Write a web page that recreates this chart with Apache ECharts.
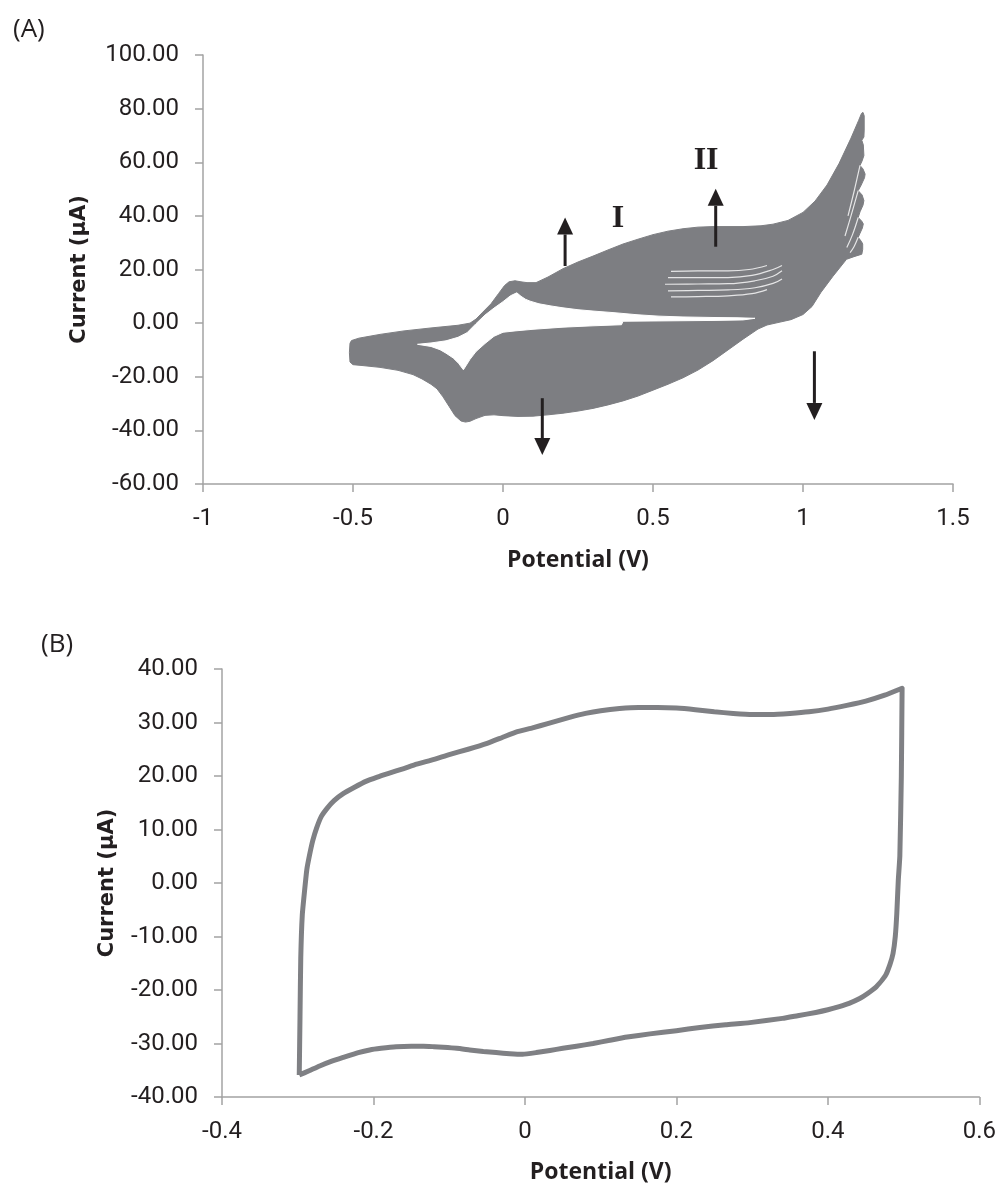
<!DOCTYPE html>
<html>
<head>
<meta charset="utf-8">
<script src="https://cdn.jsdelivr.net/npm/echarts@6/dist/echarts.min.js"></script>
<style>
  html, body { margin: 0; padding: 0; background: #fff; }
  #chart { width: 999px; height: 1185px; }
</style>
</head>
<body>
<div id="chart"></div>
<script>
const outlineA = [
  [-0.505, -6.5], [-0.48, -5.6], [-0.45, -5.0], [-0.41, -4.2], [-0.33, -2.9], [-0.24, -1.8],
  [-0.15, -0.8], [-0.11, 0.0], [-0.09, 1.5], [-0.07, 3.8], [-0.04, 7.2], [-0.015, 11.0],
  [0.005, 14.0], [0.02, 15.4], [0.04, 15.8], [0.06, 15.4], [0.08, 15.1], [0.11, 15.1],
  [0.15, 17.2], [0.2, 20.3], [0.25, 22.8], [0.3, 25.0], [0.35, 27.3], [0.4, 29.5],
  [0.45, 31.3], [0.5, 33.0], [0.55, 34.3], [0.6, 35.2], [0.65, 35.8], [0.7, 36.0],
  [0.8, 36.0], [0.86, 36.3], [0.9, 36.9], [0.95, 38.3], [1.0, 41.3], [1.04, 45.5],
  [1.08, 51.5], [1.12, 59.5], [1.16, 69.0], [1.185, 75.5], [1.195, 78.2], [1.2, 78.6],
  [1.204, 77.3], [1.204, 72.0], [1.203, 69.4], [1.196, 68.2], [1.201, 66.5], [1.203, 62.5],
  [1.197, 60.5], [1.19, 58.8], [1.2, 57.5], [1.207, 55.6], [1.205, 54.2], [1.194, 51.5],
  [1.184, 49.4], [1.197, 47.8], [1.203, 45.7], [1.2, 44.0], [1.19, 41.5], [1.184, 39.4],
  [1.196, 38.0], [1.201, 37.0], [1.198, 35.5], [1.19, 33.5], [1.184, 32.0], [1.195, 30.4],
  [1.199, 29.5], [1.199, 27.5], [1.196, 25.7],
  [1.17, 24.8], [1.145, 23.8], [1.1, 17.5], [1.06, 11.5], [1.03, 6.2], [1.0, 3.2],
  [0.96, 1.3], [0.92, 0.3], [0.88, -0.7], [0.85, -2.2], [0.8, -6.0], [0.75, -10.0],
  [0.7, -14.0], [0.65, -17.5], [0.6, -20.4], [0.55, -22.8], [0.5, -25.0], [0.45, -27.2],
  [0.4, -29.0], [0.35, -30.5], [0.3, -31.8], [0.25, -32.8], [0.2, -33.6], [0.15, -34.2],
  [0.1, -34.7], [0.05, -34.8], [0.0, -34.5], [-0.03, -34.2], [-0.06, -34.4], [-0.09, -35.6],
  [-0.11, -36.6], [-0.125, -36.9], [-0.14, -36.5], [-0.16, -34.5], [-0.18, -31.0],
  [-0.2, -27.5], [-0.22, -24.5], [-0.24, -22.8], [-0.27, -20.8], [-0.3, -19.2],
  [-0.35, -17.6], [-0.41, -16.5], [-0.47, -15.8], [-0.5, -15.5], [-0.51, -14.5],
  [-0.512, -11.0], [-0.51, -7.5]
];

// white hole between first forward and first reverse sweep
const holeA = [
  [-0.285, -7.9], [-0.24, -7.4], [-0.19, -6.6], [-0.15, -5.3], [-0.12, -3.6], [-0.09, -0.2],
  [-0.06, 3.0], [-0.03, 5.6], [0.0, 8.0], [0.025, 10.2], [0.046, 11.3], [0.06, 10.0],
  [0.075, 8.9], [0.09, 8.2], [0.12, 7.2], [0.16, 6.4], [0.2, 5.7], [0.25, 5.0], [0.3, 4.5],
  [0.37, 3.9], [0.45, 3.1], [0.52, 2.6], [0.6, 2.3], [0.7, 2.1], [0.78, 2.0], [0.84, 1.8],
  [0.8, 1.2], [0.7, 1.0], [0.6, 0.9], [0.5, 0.8], [0.4, 0.7], [0.395, -0.6], [0.3, -1.0],
  [0.2, -1.5], [0.1, -2.3], [0.04, -2.9], [0.0, -3.4], [-0.03, -4.9], [-0.06, -7.6],
  [-0.09, -10.6], [-0.11, -13.5], [-0.132, -17.4], [-0.148, -15.0], [-0.166, -13.0],
  [-0.19, -11.2], [-0.21, -9.9], [-0.24, -8.7]
];

// thin white gaps between neighbouring sweeps
const gapLinesA = [
  [[0.56, 19.3], [0.65, 19.5], [0.75, 19.5], [0.82, 20.0], [0.88, 21.5]],
  [[0.55, 17.0], [0.65, 17.0], [0.75, 17.0], [0.83, 17.8], [0.9, 20.0], [0.93, 21.5]],
  [[0.54, 14.5], [0.65, 14.6], [0.75, 14.7], [0.84, 15.8], [0.9, 17.5], [0.93, 19.5]],
  [[0.55, 12.0], [0.65, 12.2], [0.75, 12.4], [0.84, 13.2], [0.9, 14.8], [0.93, 16.5]],
  [[0.56, 9.8], [0.65, 9.9], [0.75, 10.2], [0.83, 11.0], [0.88, 12.5]],
  [[1.19, 58.8], [1.17, 49.0], [1.15, 40.0]],
  [[1.184, 49.4], [1.16, 40.0], [1.14, 32.5]],
  [[1.184, 39.4], [1.165, 33.0], [1.146, 28.2]],
  [[1.184, 32.0], [1.17, 28.5], [1.157, 26.3]],
  [[1.123, 15.7], [1.1, 13.0], [1.079, 10.7]],
  [[1.06, 7.0], [1.04, 5.6], [1.02, 4.6]]
];

// arrows: [potential, tail current, head current]
const arrowsA = [
  [0.207, 21.3, 39.4],
  [0.709, 28.5, 50.1],
  [0.131, -28.0, -49.2],
  [1.038, -10.5, -36.1]
];
const romanText = ['I', 'II'];
const romanPos = [[0.383, 39.0], [0.677, 60.7]];

// ---- panel (B): single cycle ----
const cycleB = [
  [-0.298, -35.9], [-0.297, -25.0], [-0.296, -14.0], [-0.294, -6.0], [-0.291, -1.5],
  [-0.288, 2.5], [-0.284, 5.5], [-0.28, 8.0], [-0.275, 10.3], [-0.269, 12.4],
  [-0.261, 14.0], [-0.252, 15.4], [-0.24, 16.7], [-0.225, 17.9], [-0.21, 19.0],
  [-0.195, 19.8], [-0.18, 20.5], [-0.16, 21.4], [-0.143, 22.2], [-0.12, 23.1],
  [-0.1, 24.0], [-0.075, 25.0], [-0.05, 26.1], [-0.03, 27.2], [-0.01, 28.3], [0.01, 29.0],
  [0.03, 29.8], [0.06, 31.0], [0.08, 31.7], [0.1, 32.2], [0.125, 32.6], [0.15, 32.8],
  [0.175, 32.8], [0.2, 32.7], [0.225, 32.4], [0.25, 32.0], [0.275, 31.7], [0.3, 31.5],
  [0.325, 31.5], [0.35, 31.7], [0.375, 32.0], [0.4, 32.5], [0.425, 33.2], [0.45, 34.0],
  [0.475, 35.1], [0.498, 36.4],
  [0.497, 20.0], [0.495, 5.0], [0.493, 0.6], [0.491, -5.7], [0.489, -10.0], [0.486, -13.2],
  [0.482, -15.2], [0.476, -17.3], [0.464, -19.4], [0.452, -20.7], [0.442, -21.6],
  [0.428, -22.5], [0.415, -23.1], [0.4, -23.7], [0.384, -24.2], [0.36, -24.8], [0.34, -25.3],
  [0.297, -26.1], [0.265, -26.5], [0.231, -27.0], [0.2, -27.6], [0.165, -28.2],
  [0.135, -28.8], [0.112, -29.4], [0.09, -30.0], [0.068, -30.5], [0.05, -30.9],
  [0.033, -31.3], [0.015, -31.7], [-0.003, -32.0], [-0.02, -31.9], [-0.038, -31.7],
  [-0.055, -31.5], [-0.073, -31.2], [-0.09, -30.9], [-0.108, -30.7], [-0.12, -30.6],
  [-0.134, -30.5], [-0.15, -30.5], [-0.17, -30.6], [-0.19, -30.9], [-0.205, -31.2],
  [-0.22, -31.7], [-0.24, -32.6], [-0.255, -33.3], [-0.271, -34.2], [-0.285, -35.1],
  [-0.298, -35.9]
];

const GREY = '#7d7e82';
const AXIS = '#a3a3a3';
const INK = '#231f20';

const chart = echarts.init(document.getElementById('chart'));

function polygon(pts, color, z) {
  return {
    type: 'custom', xAxisIndex: 0, yAxisIndex: 0, z: z, silent: true,
    data: [[0, 0]],
    renderItem: (params, api) => ({
      type: 'polygon',
      shape: { points: pts.map((p) => api.coord(p)) },
      style: { fill: color, stroke: color, lineWidth: 1 },
    }),
  };
}

const xAxisBase = {
  type: 'value',
  axisLine: { onZero: false, lineStyle: { color: AXIS, width: 1.5 } },
  axisTick: { show: true, length: 8, lineStyle: { color: AXIS, width: 1.5 } },
  splitLine: { show: false },
  axisLabel: { color: INK, fontFamily: 'Roboto', fontSize: 24, margin: 23,
    formatter: (v) => String(+v.toFixed(1)) },
  nameLocation: 'middle',
  nameTextStyle: { color: INK, fontFamily: 'Open Sans', fontWeight: 'bold', fontSize: 23 },
};
const yAxisBase = {
  type: 'value',
  axisLine: { show: true, onZero: false, lineStyle: { color: AXIS, width: 1.5 } },
  axisTick: { show: true, length: 8, lineStyle: { color: AXIS, width: 1.5 } },
  splitLine: { show: false },
  axisLabel: { color: INK, fontFamily: 'Roboto', fontSize: 24, margin: 24,
    formatter: (v) => v.toFixed(2) },
  name: 'Current (μA)',
  nameLocation: 'middle',
  nameRotate: 90,
  nameTextStyle: { color: INK, fontFamily: 'DejaVu Sans', fontWeight: 'bold', fontSize: 21 },
};

chart.setOption({
  animation: false,
  backgroundColor: '#fff',
  title: [
    { text: '(A)', left: 8, top: 12, textStyle: { fontFamily: 'Open Sans', fontWeight: 'normal', fontSize: 26, color: INK } },
    { text: '(B)', left: 36, top: 627, textStyle: { fontFamily: 'Open Sans', fontWeight: 'normal', fontSize: 26, color: INK } },
  ],
  grid: [
    { left: 203, top: 55, width: 750, height: 429 },
    { left: 222, top: 669, width: 758, height: 428 },
  ],
  xAxis: [
    Object.assign({}, xAxisBase, { gridIndex: 0, min: -1, max: 1.5, interval: 0.5, name: 'Potential (V)', nameGap: 65 }),
    Object.assign({}, xAxisBase, { gridIndex: 1, min: -0.4, max: 0.6, interval: 0.2, name: 'Potential (V)', nameGap: 64 }),
  ],
  yAxis: [
    Object.assign({}, yAxisBase, { gridIndex: 0, min: -60, max: 100, interval: 20, nameGap: 113 }),
    Object.assign({}, yAxisBase, { gridIndex: 1, min: -40, max: 40, interval: 10, nameGap: 104 }),
  ],
  series: [
    polygon(outlineA, GREY, 2),
    polygon(holeA, '#ffffff', 3),
    ...gapLinesA.map((g) => ({
      type: 'line', xAxisIndex: 0, yAxisIndex: 0, data: g, showSymbol: false, silent: true, z: 4,
      smooth: 0.4, lineStyle: { color: '#ffffff', width: 1.2, opacity: 0.8 },
    })),
    {
      type: 'custom', xAxisIndex: 0, yAxisIndex: 0, z: 6, silent: true,
      data: arrowsA,
      renderItem: (params, api) => {
        const tail = api.coord([api.value(0), api.value(1)]);
        const tip = api.coord([api.value(0), api.value(2)]);
        const dir = tip[1] < tail[1] ? 1 : -1;
        const base = tip[1] + dir * 17;
        return {
          type: 'group',
          children: [
            { type: 'line', shape: { x1: tail[0], y1: tail[1], x2: tip[0], y2: base },
              style: { stroke: INK, lineWidth: 3 } },
            { type: 'polygon', shape: { points: [[tip[0], tip[1]], [tip[0] - 8, base], [tip[0] + 8, base]] },
              style: { fill: INK } },
          ],
        };
      },
    },
    {
      type: 'custom', xAxisIndex: 0, yAxisIndex: 0, z: 7, silent: true,
      data: romanPos,
      renderItem: (params, api) => {
        const p = api.coord([api.value(0), api.value(1)]);
        return {
          type: 'text',
          style: { x: p[0], y: p[1], text: romanText[params.dataIndex], fill: INK,
            font: 'bold 32px "Liberation Serif"', align: 'center', verticalAlign: 'middle' },
        };
      },
    },
    {
      type: 'line', xAxisIndex: 1, yAxisIndex: 1, data: cycleB, showSymbol: false, silent: true,
      smooth: 0.15, lineStyle: { color: '#7f8084', width: 5, join: 'round' },
    },
  ],
});
</script>
</body>
</html>
